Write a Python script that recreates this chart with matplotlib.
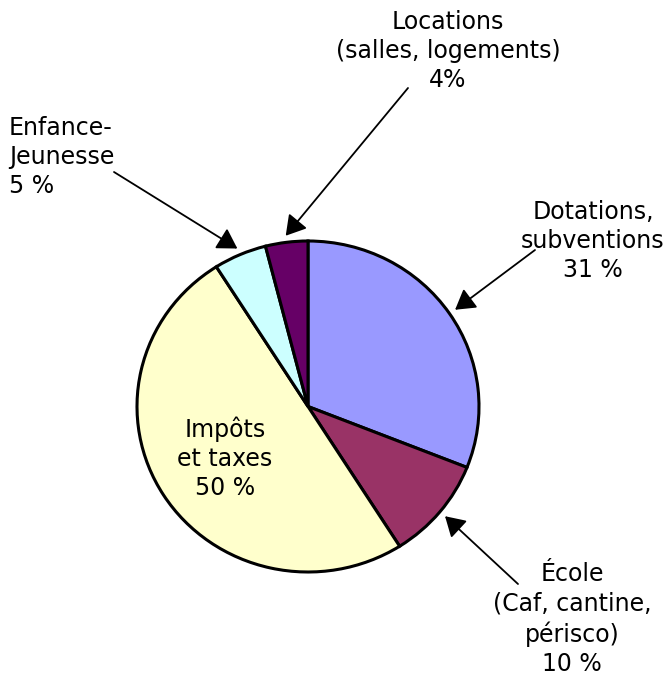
import numpy as np
import matplotlib
matplotlib.use("Agg")
import matplotlib.pyplot as plt

labels = ["Dotations,\nsubventions\n31 %", "École\n(Caf, cantine,\npérisco)\n10 %",
          "Impôts\net taxes\n50 %", "Enfance-\nJeunesse\n5 %",
          "Locations\n(salles, logements)\n4%"]
values = [31, 10, 50, 5, 4]
colors = ["#9999FF", "#993366", "#FFFFCC", "#CCFFFF", "#660066"]

W, H = 667, 675
fig = plt.figure(figsize=(W / 100, H / 100), dpi=100)
plt.rcParams['font.family'] = ['DejaVu Sans']

# pie box in pixels (top-left origin)
px_l, px_r, px_t, px_b = 137, 479, 241, 572
ax = fig.add_axes([px_l / W, 1 - px_b / H, (px_r - px_l) / W, (px_b - px_t) / H])
ax.pie(values, colors=colors, startangle=90, counterclock=False,
       wedgeprops=dict(edgecolor="black", linewidth=2.2))
ax.set_xlim(-1.0, 1.0)
ax.set_ylim(-1.0, 1.0)
ax.set_aspect('auto')
ax.axis('off')

fs = 17
ls = 1.27
total = sum(values)
cum = np.cumsum([0] + values)
mids = [90 - 360 * (cum[i] + values[i] / 2) / total for i in range(len(values))]

def edge(i, r=1.04):
    a = np.deg2rad(mids[i])
    return (r * np.cos(a), r * np.sin(a))

def fp(x, y):
    return (x, H - y)

# text placements (pixel positions, top-left origin)
text_pos = {
    0: (593, 241, 'center'),
    1: (572, 619, 'center'),
    3: (9, 157, 'left'),
    4: (448, 51, 'center'),
}
arrow_start = {
    0: (535, 250),
    1: (518, 584),
    3: (114, 172),
    4: (408, 88),
}
for i, (x, y, ha) in text_pos.items():
    fig.text(x / W, 1 - y / H, labels[i], ha=ha, va='center', fontsize=fs,
             multialignment=ha, linespacing=ls)
    ax.annotate('', xy=edge(i), xycoords='data',
                xytext=fp(*arrow_start[i]), textcoords='figure pixels',
                annotation_clip=False,
                arrowprops=dict(arrowstyle='-|>,head_length=0.5,head_width=0.3',
                                color='black', lw=1.3,
                                mutation_scale=24, shrinkA=0, shrinkB=0))

# inside label for Impôts
fig.text(225 / W, 1 - 458 / H, labels[2], ha='center', va='center', fontsize=fs,
         multialignment='center', linespacing=ls)

fig.savefig("out.png", dpi=100, facecolor='white')
